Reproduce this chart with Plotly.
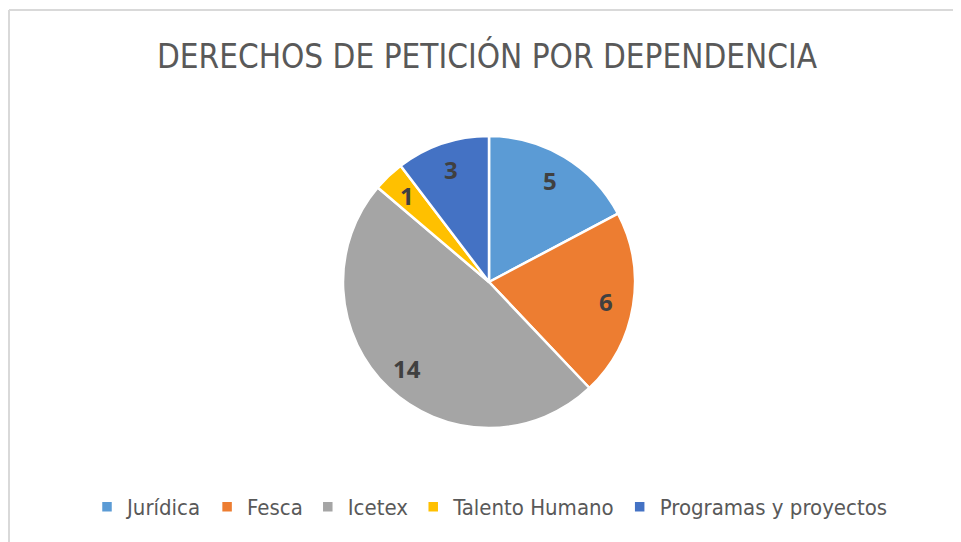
import math
import plotly.graph_objects as go

categories = ["Jurídica", "Fesca", "Icetex", "Talento Humano", "Programas y proyectos"]
values = [5, 6, 14, 1, 3]
colors = ["#5B9BD5", "#ED7D31", "#A5A5A5", "#FFC000", "#4472C4"]
title_text = "DERECHOS DE PETICIÓN POR DEPENDENCIA"

# page body adds an 8px margin; figure is sized/positioned to compensate
OFF = 8
W, H = 961 - OFF, 542 - OFF
cx, cy, r = 489 - OFF, 282 - OFF, 146

fig = go.Figure(go.Pie(
    labels=categories,
    values=values,
    sort=False,
    direction="clockwise",
    rotation=0,
    marker=dict(colors=colors, line=dict(color="white", width=2.5)),
    textinfo="none",
    domain=dict(x=[(cx - r) / W, (cx + r) / W], y=[1 - (cy + r) / H, 1 - (cy - r) / H]),
    hoverinfo="label+value",
))

# data labels placed at ~0.81 of the radius along each slice's mid-angle
total = sum(values)
cum = 0
annotations = []
for v in values:
    mid = (cum + v / 2) / total * 2 * math.pi
    cum += v
    lx = cx + 0.815 * r * math.sin(mid)
    ly = cy - 0.815 * r * math.cos(mid)
    annotations.append(dict(
        text=f"<b>{v}</b>", x=lx / W, y=1 - ly / H, xref="paper", yref="paper",
        showarrow=False, xanchor="center", yanchor="middle",
        font=dict(family="Open Sans, Liberation Sans", size=24, color="#404040"),
    ))

fig.update_layout(
    width=W, height=H,
    margin=dict(l=0, r=0, t=0, b=0),
    paper_bgcolor="white",
    plot_bgcolor="white",
    title=dict(text=title_text, x=(487 - OFF) / W, xanchor="center", y=1 - (56 - OFF) / H, yanchor="middle",
               font=dict(family="DejaVu Sans Condensed, Open Sans", size=33, color="#595959")),
    legend=dict(orientation="h", x=(490 - OFF) / W, xanchor="center", y=1 - (507 - OFF) / H, yanchor="middle",
                font=dict(family="DejaVu Sans Condensed, Open Sans", size=22, color="#595959"),
                itemwidth=30, traceorder="normal", itemclick=False),
    annotations=annotations,
    shapes=[
        dict(type="line", xref="paper", yref="paper", x0=1 / W, x1=1, y0=1 - 2 / H, y1=1 - 2 / H,
             line=dict(color="#D9D9D9", width=2)),
        dict(type="line", xref="paper", yref="paper", x0=1 / W, x1=1 / W, y0=0, y1=1 - 2 / H,
             line=dict(color="#D9D9D9", width=2)),
    ],
)

fig.write_html("out.html")
